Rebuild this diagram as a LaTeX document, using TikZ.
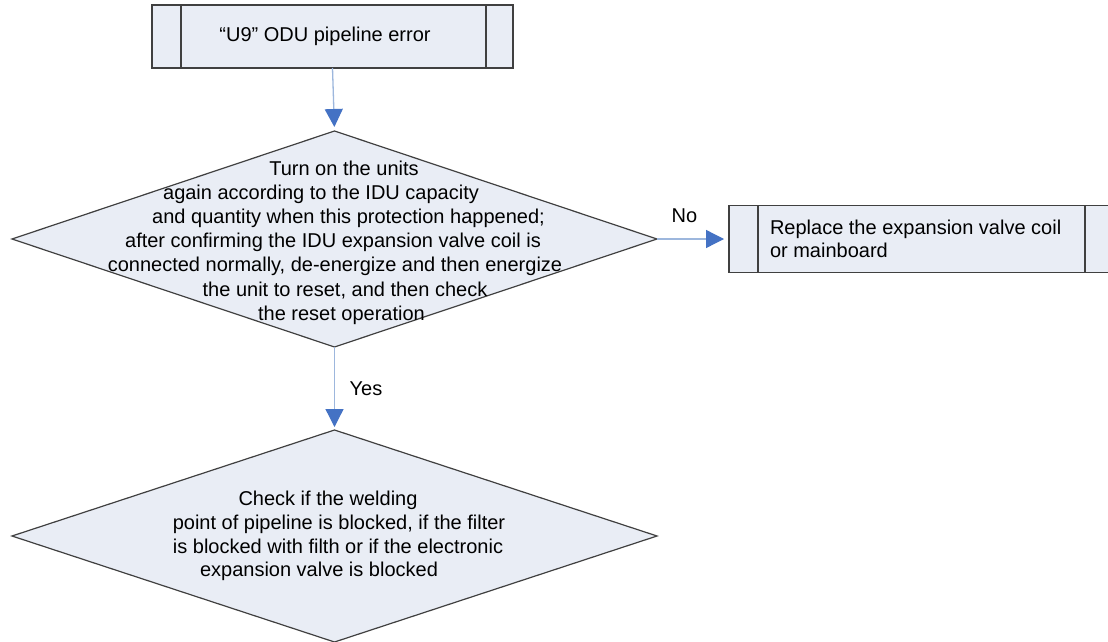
\documentclass[tikz,border=0pt]{standalone}
\usepackage{fontspec}
\setmainfont{Liberation Sans}
\usetikzlibrary{arrows.meta,shapes.geometric}
\definecolor{boxfill}{HTML}{E9EDF5}
\definecolor{edgegray}{HTML}{404040}
\definecolor{linkblue}{HTML}{9DB7DD}
\definecolor{tipblue}{HTML}{4472C4}
\begin{document}
\begin{tikzpicture}[x=1pt,y=-1pt,
  every node/.style={font=\fontsize{20}{24.2}\selectfont, inner sep=0pt, outer sep=0pt},
  procbox/.style={rectangle, draw=edgegray, fill=boxfill, line width=1.3pt},
  decision/.style={diamond, draw=edgegray, fill=boxfill, line width=1.2pt,
    minimum width=645pt, minimum height=#1},
  link/.style={draw=linkblue, line width=1.3pt,
    -{Triangle[length=18pt,width=18pt,color=tipblue,fill=tipblue]}},
  lbl/.style={font=\fontsize{20}{24}\selectfont}
]
\clip (0,0) rectangle (1108,642);
\fill[white] (0,0) rectangle (1108,642);

% start box
\node[procbox, minimum width=361pt, minimum height=63pt] (start) at (332.5,36.5)
  {\hspace*{-15pt}“U9” ODU pipeline error};
\draw[edgegray, line width=1.3pt] ([xshift=29pt]start.north west) -- ([xshift=29pt]start.south west);
\draw[edgegray, line width=1.3pt] ([xshift=-27pt]start.north east) -- ([xshift=-27pt]start.south east);

% first decision
\node[decision=216pt] (d1) at (334.5,239) {};
\node[align=center] (d1text) at ([yshift=-3.5pt]d1.center) {%
  \hspace*{19pt}Turn on the units\\
  \hspace*{-27pt}again according to the IDU capacity\\
  \hspace*{28pt}and quantity when this protection happened;\\
  \hspace*{-3pt}after confirming the IDU expansion valve coil is\\
  \hspace*{1pt}connected normally, de-energize and then energize\\
  \hspace*{21pt}the unit to reset, and then check\\
  \hspace*{14pt}the reset operation};

% fail box
\node[procbox, minimum width=385pt, minimum height=67pt] (fail) at (921.5,239) {};
\draw[edgegray, line width=1.3pt] ([xshift=29pt]fail.north west) -- ([xshift=29pt]fail.south west);
\draw[edgegray, line width=1.3pt] ([xshift=-29pt]fail.north east) -- ([xshift=-29pt]fail.south east);
\node[anchor=west, align=left, font=\fontsize{20}{23}\selectfont] (failtext) at ([xshift=41pt]fail.west)
  {Replace the expansion valve coil\\or mainboard};

% second decision
\node[decision=212pt] (d2) at (334.5,536) {};
\node[align=center, font=\fontsize{20}{23.7}\selectfont] (d2text) at (d2.center) {%
  \hspace*{-13pt}Check if the welding\\
  \hspace*{9pt}point of pipeline is blocked, if the filter\\
  \hspace*{7pt}is blocked with filth or if the electronic\\
  \hspace*{-31pt}expansion valve is blocked};

% connectors
\draw[link, shorten >=4pt] (start.south) -- (d1.north);
\draw[link, shorten >=5pt] (d1.east) -- (fail.west);
\draw[link, shorten >=3pt] (d1.south) -- (d2.north);

% labels
\node[lbl] (nolabel) at (684.5,216) {No};
\node[lbl] (yeslabel) at (366,389) {Yes};
\end{tikzpicture}
\end{document}
